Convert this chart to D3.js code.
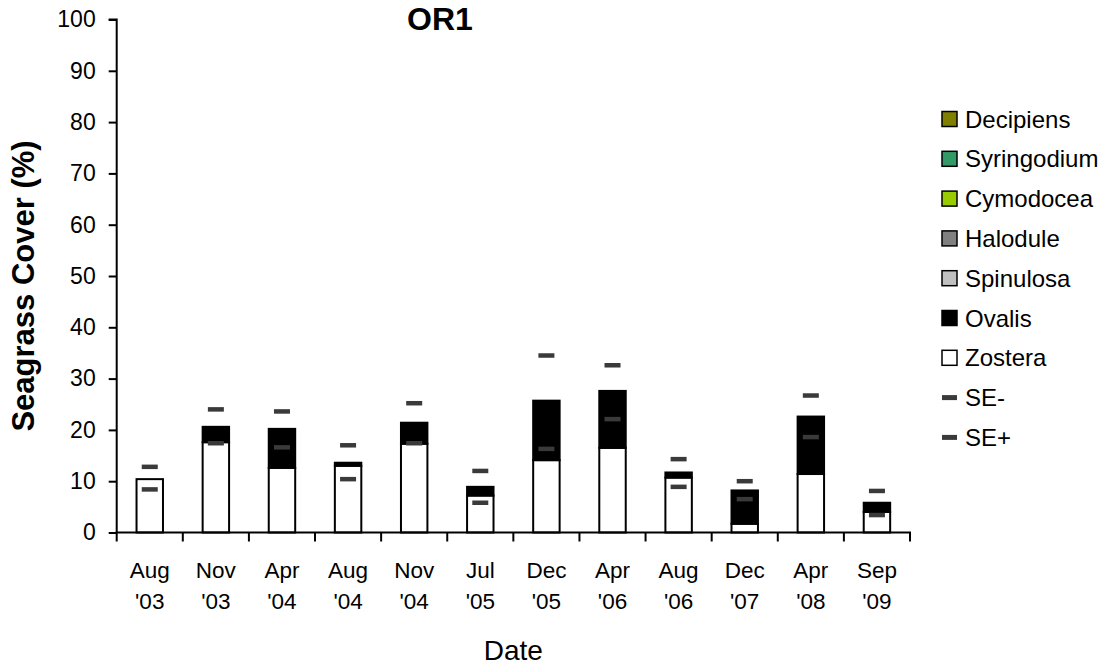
<!DOCTYPE html>
<html>
<head>
<meta charset="utf-8">
<script src="https://cdn.jsdelivr.net/npm/d3@7/dist/d3.min.js"></script>
<style>
  html, body { margin: 0; padding: 0; background: #fff; }
  svg { display: block; font-family: "Liberation Sans", Arial, sans-serif; }
</style>
</head>
<body>
<svg id="chart" width="1106" height="671"></svg>
<script>
// ---- data ----
const months = ["Aug", "Nov", "Apr", "Aug", "Nov", "Jul", "Dec", "Apr", "Aug", "Dec", "Apr", "Sep"];
const years  = ["'03", "'03", "'04", "'04", "'04", "'05", "'05", "'06", "'06", "'07", "'08", "'09"];
const categories = months.map((m, i) => m + " " + years[i]);

const zostera     = [10.4, 17.6, 12.6, 13.0, 17.3, 7.2, 14.1, 16.5, 10.7, 1.7, 11.4, 4.0];
const ovalis      = [0.0, 3.0, 7.6, 0.6, 4.1, 1.7, 11.6, 11.1, 1.0, 6.5, 11.2, 1.8];
const spinulosa   = [0, 0, 0, 0, 0, 0, 0, 0, 0, 0, 0, 0];
const halodule    = [0, 0, 0, 0, 0, 0, 0, 0, 0, 0, 0, 0];
const cymodocea   = [0, 0, 0, 0, 0, 0, 0, 0, 0, 0, 0, 0];
const syringodium = [0, 0, 0, 0, 0, 0, 0, 0, 0, 0, 0, 0];
const decipiens   = [0, 0, 0, 0, 0, 0, 0, 0, 0, 0, 0, 0];
const seMinus = [8.4, 17.4, 16.6, 10.4, 17.4, 5.8, 16.3, 22.1, 8.9, 6.5, 18.6, 3.4];
const sePlus  = [12.8, 24.0, 23.6, 17.0, 25.2, 12.0, 34.5, 32.6, 14.3, 10.0, 26.7, 8.1];
const yTicks = [0, 10, 20, 30, 40, 50, 60, 70, 80, 90, 100];

const seriesNames  = ["Zostera", "Ovalis", "Spinulosa", "Halodule", "Cymodocea", "Syringodium", "Decipiens"];
const seriesValues = [zostera, ovalis, spinulosa, halodule, cymodocea, syringodium, decipiens];
const seriesColors = ["#ffffff", "#000000", "#c0c0c0", "#808080", "#99cc00", "#339966", "#808000"];

// ---- layout ----
const svg = d3.select("#chart");
const pLeft = 116.7, pRight = 910, pTop = 19.5, pBottom = 532.5;

const x = d3.scaleBand().domain(categories).range([pLeft, pRight])
  .paddingInner(0.6).paddingOuter(0.3);
const y = d3.scaleLinear().domain([0, 100]).range([pBottom, pTop]);

// stacked data
const table = categories.map((c, i) => {
  const row = { cat: c };
  seriesNames.forEach((s, k) => row[s] = seriesValues[k][i]);
  return row;
});
const stackData = d3.stack().keys(seriesNames)(table);

const gBars = svg.append("g");
stackData.forEach((layer, k) => {
  gBars.selectAll(null).data(layer.filter(d => d[1] - d[0] > 0)).enter().append("rect")
    .attr("x", d => x(d.data.cat))
    .attr("width", x.bandwidth())
    .attr("y", d => y(d[1]))
    .attr("height", d => y(d[0]) - y(d[1]))
    .attr("fill", seriesColors[k])
    .attr("stroke", "#000")
    .attr("stroke-width", 2);
});

// SE markers
const seW = 16, seH = 4.5;
[seMinus, sePlus].forEach(arr => {
  svg.append("g").selectAll("rect").data(arr).enter().append("rect")
    .attr("x", (d, i) => x(categories[i]) + x.bandwidth() / 2 - seW / 2)
    .attr("y", d => y(d) - seH / 2)
    .attr("width", seW)
    .attr("height", seH)
    .attr("fill", "#3a3a3a");
});

// y axis
const yAxis = d3.axisLeft(y).tickValues(yTicks).tickSize(8).tickPadding(13).tickFormat(d3.format("d"));
const gy = svg.append("g").attr("transform", `translate(${pLeft},0)`).call(yAxis);
gy.select(".domain").attr("stroke", "#000").attr("stroke-width", 2).attr("d", `M-8,${pTop}H0V${pBottom}`);
gy.selectAll(".tick line").attr("stroke", "#000").attr("stroke-width", 2);
gy.selectAll(".tick text").attr("font-size", 23).attr("fill", "#000")
  .attr("font-family", "Liberation Sans, Arial, sans-serif");

// x axis line and boundary ticks
const step = x.step();
const boundaries = d3.range(categories.length + 1).map(i => pLeft + i * step);
svg.append("line").attr("x1", pLeft - 1).attr("x2", pRight + 1).attr("y1", pBottom).attr("y2", pBottom)
  .attr("stroke", "#000").attr("stroke-width", 2);
svg.append("g").selectAll("line").data(boundaries).enter().append("line")
  .attr("x1", d => d).attr("x2", d => d).attr("y1", pBottom).attr("y2", pBottom + 9)
  .attr("stroke", "#000").attr("stroke-width", 2);

// x labels
const gx = svg.append("g");
categories.forEach((c, i) => {
  const cx = x(c) + x.bandwidth() / 2;
  const t = gx.append("text").attr("text-anchor", "middle").attr("font-size", 22.5).attr("fill", "#000");
  t.append("tspan").attr("x", cx).attr("y", 578).text(months[i]);
  t.append("tspan").attr("x", cx).attr("y", 609).text(years[i]);
});

// titles
svg.append("text").attr("x", 440).attr("y", 30).attr("text-anchor", "middle")
  .attr("font-size", 32).attr("font-weight", "bold").text("OR1");
svg.append("text").attr("transform", "translate(34,286) rotate(-90)").attr("text-anchor", "middle")
  .attr("font-size", 31).attr("font-weight", "bold").text("Seagrass Cover (%)");
svg.append("text").attr("x", (pLeft + pRight) / 2).attr("y", 660).attr("text-anchor", "middle")
  .attr("font-size", 28).text("Date");

// legend
const legendItems = [
  { name: "Decipiens", color: seriesColors[6], type: "box" },
  { name: "Syringodium", color: seriesColors[5], type: "box" },
  { name: "Cymodocea", color: seriesColors[4], type: "box" },
  { name: "Halodule", color: seriesColors[3], type: "box" },
  { name: "Spinulosa", color: seriesColors[2], type: "box" },
  { name: "Ovalis", color: seriesColors[1], type: "box" },
  { name: "Zostera", color: seriesColors[0], type: "box" },
  { name: "SE-", color: "#3a3a3a", type: "dash" },
  { name: "SE+", color: "#3a3a3a", type: "dash" }
];
const lg = svg.append("g");
legendItems.forEach((d, i) => {
  const cy = 119 + i * 39.8;
  if (d.type === "box") {
    lg.append("rect").attr("x", 942).attr("y", cy - 7.5).attr("width", 15).attr("height", 15)
      .attr("fill", d.color).attr("stroke", "#000").attr("stroke-width", 1.5);
  } else {
    lg.append("rect").attr("x", 942).attr("y", cy - 2.5).attr("width", 15).attr("height", 5)
      .attr("fill", d.color);
  }
  lg.append("text").attr("x", 965).attr("y", cy + 8.5).attr("font-size", 24).attr("fill", "#000").text(d.name);
});
</script>
</body>
</html>
